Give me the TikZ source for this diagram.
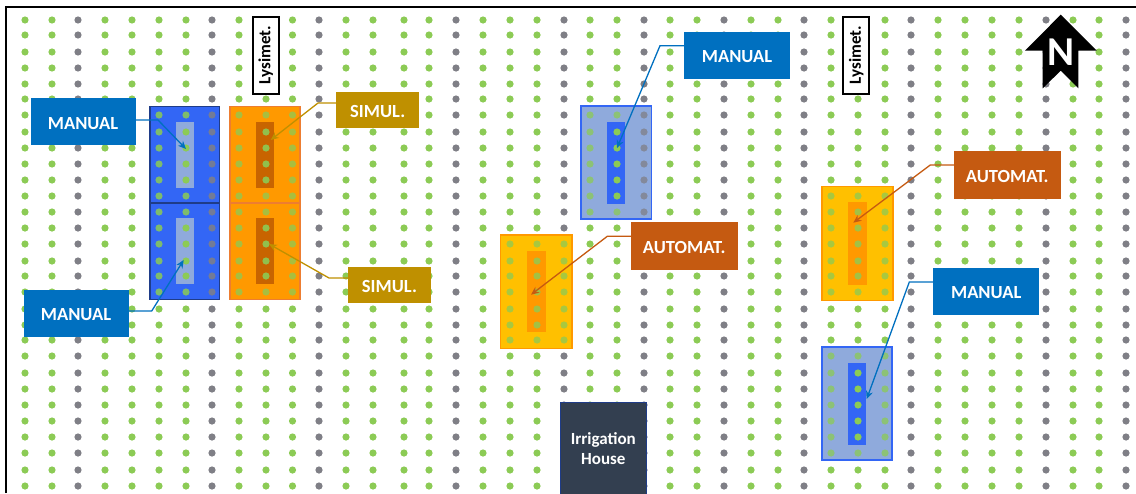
\documentclass[tikz,border=0pt]{standalone}
\usepackage{fontspec}
\setmainfont{Carlito}
\usepackage{xcolor}
\usetikzlibrary{arrows.meta}

\definecolor{dotgreen}{HTML}{8CCB55}
\definecolor{dotgrey}{HTML}{7F7F86}
\definecolor{manualblue}{HTML}{0070C0}
\definecolor{simulgold}{HTML}{BF9000}
\definecolor{automatrust}{HTML}{C55A11}
\definecolor{plotblue}{HTML}{3366F5}
\definecolor{edgeblue}{HTML}{1F3C88}
\definecolor{paleblue}{HTML}{8FAADC}
\definecolor{plotorange}{HTML}{FF9900}
\definecolor{edgeorange}{HTML}{ED7D31}
\definecolor{darkorange}{HTML}{C86400}
\definecolor{plotyellow}{HTML}{FFC000}
\definecolor{housenavy}{HTML}{333F50}

\tikzset{
  cell/.style={inner sep=0pt, outer sep=0pt, line width=1.4pt},
  tag/.style={fill=#1, text=white, inner sep=0pt, outer sep=0pt, text height=14.5pt, text depth=0pt,
              font=\fontsize{18.5}{20}\selectfont\bfseries},
  manualtag/.style={tag=manualblue, minimum width=105pt, minimum height=47pt},
  simultag/.style={tag=simulgold, minimum width=83pt, minimum height=35.5pt},
  automattag/.style={tag=automatrust, minimum width=107pt, minimum height=47.5pt},
  lysitag/.style={draw=black, fill=white, line width=2pt, rotate=90, inner sep=0pt, outer sep=0pt,
                  minimum width=77pt, minimum height=26pt, font=\fontsize{17}{20}\selectfont\bfseries},
  leader/.style={draw=#1, line width=1.3pt, -{Stealth[length=8pt, width=7pt]}}
}

\def\allcols{25/dotgreen,52/dotgreen,78/dotgrey,105/dotgreen,132/dotgreen,159/dotgreen,186/dotgreen,212/dotgrey,239/dotgreen,266/dotgreen,292.5/dotgreen,319/dotgrey,346/dotgreen,373/dotgreen,404/dotgreen,429/dotgreen,456/dotgrey,483/dotgreen,510/dotgreen,537/dotgreen,564/dotgrey,590/dotgreen,617/dotgreen,644/dotgrey,670/dotgreen,697/dotgreen,724/dotgrey,751/dotgreen,778/dotgreen,804/dotgrey,831/dotgreen,858/dotgreen,885/dotgreen,911/dotgrey,938/dotgreen,965/dotgreen,992/dotgreen,1019/dotgreen,1046/dotgrey,1073/dotgreen,1099/dotgreen,1126/dotgrey}
\def\allrows{20,35,52,68,84,99,115,132,148,164,180,196,212,228,244,261,276,292,309,325,340,356,373,389,405,421,437,453,470,486}
\def\bluecols{159/dotgreen,186/dotgreen,212/dotgrey}
\def\orangecols{239/dotgreen,266/dotgreen,292.5/dotgreen}
\def\rowsA{115,132,148,164,180,196}
\def\rowsB{212,228,244,261,276,292}

\newcommand{\fielddots}[3]{%
  \foreach \cx/\dc in #2 {\foreach \cy in #3 {\fill[\dc, fill opacity=#1] (\cx,\cy) circle (3.6);}}
}
\newcommand{\plotcell}[8]{%
  \node[cell, #2, minimum width=#4pt, minimum height=#5pt] (#1) at (#3) {};
  \begin{scope}
    \clip (#1.south west) rectangle (#1.north east);
    \fielddots{#6}{#7}{#8}
  \end{scope}
}

\begin{document}
\begin{tikzpicture}[x=1pt, y=-1pt]
  \useasboundingbox (0,0) rectangle (1136,493);
  \fill[white] (0,0) rectangle (1136,493);
  \fielddots{1}{\allcols}{\allrows}
  \draw[line width=2pt] (6,493) -- (6,6.7) -- (1136,6.7);

  \plotcell{blueA}{fill=plotblue, draw=edgeblue}{184.75,154.75}{69.5}{96.5}{.85}{\bluecols}{\rowsA}
  \plotcell{blueAstrip}{fill=paleblue}{184.75,154.75}{17.5}{65.5}{1}{{186/dotgreen}}{\rowsA}
  \plotcell{blueB}{fill=plotblue, draw=edgeblue}{184.75,251.25}{69.5}{96.5}{.85}{\bluecols}{\rowsB}
  \plotcell{blueBstrip}{fill=paleblue}{184.75,251}{17.5}{66}{1}{{186/dotgreen}}{\rowsB}
  \plotcell{orangeA}{fill=plotorange, draw=edgeorange}{265,154.75}{70}{96.5}{.75}{\orangecols}{\rowsA}
  \plotcell{orangeAstrip}{fill=darkorange}{265,154.75}{18}{65.5}{.9}{{266/dotgreen}}{\rowsA}
  \plotcell{orangeB}{fill=plotorange, draw=edgeorange}{265,251.25}{70}{96.5}{.75}{\orangecols}{\rowsB}
  \plotcell{orangeBstrip}{fill=darkorange}{265,251}{18}{66}{.9}{{266/dotgreen}}{\rowsB}
  \plotcell{paleA}{fill=paleblue, draw=plotblue}{616.3,162.5}{70.7}{113}{.75}{{590/dotgreen,617/dotgreen,644/dotgrey}}{{115,132,148,164,180,196,212}}
  \plotcell{paleAstrip}{fill=plotblue}{616.3,162.75}{18}{81.5}{1}{{617/dotgreen}}{{132,148,164,180,196}}
  \plotcell{yellowA}{fill=plotyellow, draw=plotorange}{536.3,291.8}{71.3}{113.7}{.75}{{510/dotgreen,537/dotgreen,564/dotgreen}}{{244,261,276,292,309,325,340}}
  \plotcell{yellowAstrip}{fill=plotorange}{536.5,291.2}{18.4}{81}{.8}{{537/dotgreen}}{{261,276,292,309,325}}
  \plotcell{yellowB}{fill=plotyellow, draw=plotorange}{857.5,243.7}{71}{114}{.75}{{831/dotgreen,858/dotgreen,885/dotgreen}}{{196,212,228,244,261,276,292}}
  \plotcell{yellowBstrip}{fill=plotorange}{857.5,243.3}{18.4}{82.7}{.8}{{858/dotgreen}}{{212,228,244,261,276}}
  \plotcell{paleB}{fill=paleblue, draw=plotblue}{857,403.5}{70}{113}{.75}{{831/dotgreen,858/dotgreen,885/dotgreen}}{{356,373,389,405,421,437,453}}
  \plotcell{paleBstrip}{fill=plotblue}{857.2,403.7}{17.7}{82}{1}{{858/dotgreen}}{{373,389,405,421,437}}

  \node[manualtag] (manualA) at (83,121.75) {MANUAL};
  \node[manualtag] (manualB) at (76,313.25) {MANUAL};
  \node[manualtag, minimum width=106.5pt] (manualC) at (737,55.7) {MANUAL};
  \node[manualtag, minimum width=106.5pt] (manualD) at (986.2,291.2) {MANUAL};
  \node[simultag] (simulA) at (377.7,109.8) {SIMUL.};
  \node[simultag] (simulB) at (389.5,285.2) {SIMUL.};
  \node[automattag] (automatA) at (684.3,245.8) {AUTOMAT.};
  \node[automattag] (automatB) at (1007.3,174.8) {AUTOMAT.};
  \node[lysitag] (lysiA) at (265.7,55) {Lysimet.};
  \node[lysitag] (lysiB) at (856.2,55) {Lysimet.};
  \node[fill=housenavy, draw=edgeblue, line width=.8pt, text=white, inner sep=0pt, outer sep=0pt,
        minimum width=86.7pt, minimum height=93pt, align=center,
        font=\fontsize{17}{20}\selectfont\bfseries] (house) at (603.3,448.5) {Irrigation\\House};

  \coordinate (tipA) at (186,149);
  \coordinate (tipB) at (183.7,260);
  \coordinate (tipC) at (270.7,140);
  \coordinate (tipD) at (269,244);
  \coordinate (tipE) at (617,148);
  \coordinate (tipF) at (531,294.7);
  \coordinate (tipG) at (853.3,222.7);
  \coordinate (tipH) at (866.7,399);

  \draw[leader=manualblue] ([yshift=1.75pt]manualA.east) -- (158,120) -- (tipA);
  \draw[leader=manualblue] ([yshift=2.25pt]manualB.east) -- (151.7,311) -- (tipB);
  \draw[leader=simulgold] ([yshift=6.8pt]simulA.west) -- (318,103) -- (tipC);
  \draw[leader=simulgold] ([yshift=7.2pt]simulB.west) -- (329,278) -- (tipD);
  \draw[leader=manualblue] ([yshift=10pt]manualC.west) -- (660,45.7) -- (tipE);
  \draw[leader=automatrust] ([yshift=9.5pt]automatA.west) -- (607.3,236.3) -- (tipF);
  \draw[leader=automatrust] ([yshift=9.8pt]automatB.west) -- (930.3,165) -- (tipG);
  \draw[leader=manualblue] ([yshift=9.2pt]manualD.west) -- (909.3,282) -- (tipH);

  \fill[black] (1060.7,14.7) -- (1096.7,50.7) -- (1078.3,50.7) -- (1078.3,88.3) -- (1060.7,70.7)
    -- (1042.7,88.3) -- (1042.7,50.7) -- (1025,50.7) -- cycle;
  \node[text=white, inner sep=0pt, font=\fontsize{41}{41}\selectfont\bfseries] (north) at (1061,52.5) {N};
\end{tikzpicture}
\end{document}
